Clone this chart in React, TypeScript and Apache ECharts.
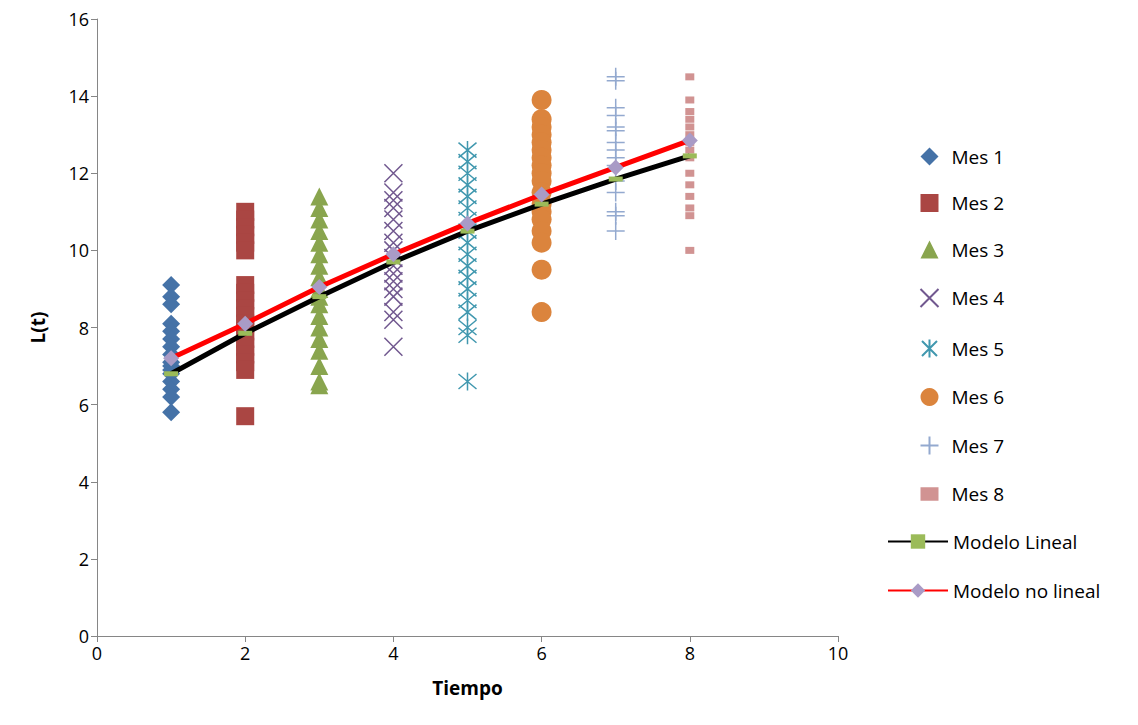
import { useEffect, useRef } from 'react';
import * as echarts from 'echarts';

const mes1 = [9.1, 8.8, 8.6, 8.1, 7.9, 7.7, 7.5, 7.3, 7.1, 7.0, 6.9, 6.8, 6.6, 6.4, 6.2, 5.8];
const mes2 = [11.0, 10.8, 10.6, 10.4, 10.2, 10.0, 9.1, 8.9, 8.7, 8.5, 8.3, 8.1, 7.9, 7.7, 7.5, 7.3, 7.1, 6.9, 5.7];
const mes3 = [11.4, 11.1, 10.8, 10.5, 10.2, 9.9, 9.6, 9.3, 9.0, 8.8, 8.6, 8.3, 8.0, 7.7, 7.4, 7.0, 6.6, 6.5];
const mes4 = [12.0, 11.5, 11.3, 11.1, 10.8, 10.5, 10.2, 10.0, 9.8, 9.6, 9.4, 9.2, 9.0, 8.8, 8.4, 8.2, 7.5];
const mes5 = [12.6, 12.3, 12.0, 11.7, 11.4, 11.1, 10.8, 10.5, 10.2, 9.9, 9.6, 9.3, 9.0, 8.7, 8.4, 8.0, 7.8, 6.6];
const mes6 = [13.9, 13.4, 13.2, 13.0, 12.8, 12.6, 12.4, 12.2, 12.0, 11.8, 11.5, 11.2, 11.0, 10.8, 10.5, 10.2, 9.5, 8.4];
const mes7 = [14.5, 14.4, 13.7, 13.5, 13.2, 13.1, 12.8, 12.6, 12.4, 12.2, 11.8, 11.5, 11.0, 10.9, 10.5];
const mes8 = [14.5, 13.9, 13.6, 13.4, 13.2, 13.0, 12.8, 12.6, 12.4, 12.0, 11.7, 11.4, 11.1, 10.9, 10.0];
const tiempos = [1, 2, 3, 4, 5, 6, 7, 8];
const modeloLineal = [6.8, 7.85, 8.8, 9.7, 10.5, 11.2, 11.85, 12.45];
const modeloNoLineal = [7.2, 8.1, 9.05, 9.9, 10.7, 11.45, 12.15, 12.85];

const meses = [mes1, mes2, mes3, mes4, mes5, mes6, mes7, mes8];
const nombres = ['Mes 1', 'Mes 2', 'Mes 3', 'Mes 4', 'Mes 5', 'Mes 6', 'Mes 7', 'Mes 8'];
const colores = ['#4572a7', '#aa4643', '#89a54e', '#71588f', '#4198af', '#db843d', '#93a9cf', '#d19392'];

const cross = 'path://M0,0L10,10M10,0L0,10';
const star = 'path://M0,0L10,10M10,0L0,10M5,-1L5,11';
const plus = 'path://M5,0L5,10M0,5L10,5';
const smallRect = 'path://M3,4L7,4L7,7L3,7Z';

const simbolos: { symbol: string; size: number | number[]; stroke?: boolean }[] = [
    { symbol: 'diamond', size: 18 },
    { symbol: 'rect', size: 18 },
    { symbol: 'triangle', size: 18 },
    { symbol: cross, size: 18, stroke: true },
    { symbol: star, size: 18, stroke: true },
    { symbol: 'circle', size: 20 },
    { symbol: plus, size: 18, stroke: true },
    { symbol: 'rect', size: [9, 7] },
];
const legendIcons = ['diamond', 'rect', 'triangle', cross, star, 'circle', plus, smallRect];

export default function App() {
    const chartRef = useRef<HTMLDivElement>(null);

    useEffect(() => {
        if (!chartRef.current) return;
        const chart = echarts.init(chartRef.current, null, { renderer: 'svg' });

        const scatterSeries = meses.map((vals, i) => {
            const s = simbolos[i];
            return {
                name: nombres[i],
                type: 'scatter' as const,
                symbol: s.symbol,
                symbolSize: s.size,
                itemStyle: s.stroke
                    ? { color: 'none', borderColor: colores[i], borderWidth: 1.5, opacity: 1 }
                    : { color: colores[i], opacity: 1 },
                data: vals.map(v => [i + 1, v]),
            };
        });

        const option: echarts.EChartsOption = {
            animation: false,
            textStyle: { fontFamily: 'Open Sans' },
            grid: { left: 89, right: 292, top: 11, bottom: 81 },
            legend: [
                {
                    orient: 'vertical',
                    left: 905,
                    top: 134,
                    itemGap: 27.5,
                    itemWidth: 18,
                    itemHeight: 18,
                    textStyle: { fontSize: 19, color: '#000', padding: [0, 0, 0, 8] },
                    data: nombres.map((n, i) => ({ name: n, icon: legendIcons[i] })),
                },
                {
                    orient: 'vertical',
                    left: 874,
                    top: 519,
                    itemGap: 30,
                    itemWidth: 60,
                    itemHeight: 18,
                    textStyle: { fontSize: 19, color: '#000' },
                    data: ['Modelo Lineal', 'Modelo no lineal'],
                },
            ],
            xAxis: {
                type: 'value',
                min: 0,
                max: 10,
                interval: 2,
                name: 'Tiempo',
                nameLocation: 'middle',
                nameGap: 42,
                nameTextStyle: { fontSize: 19, fontWeight: 'bold', color: '#000' },
                axisLine: { lineStyle: { color: '#868686' } },
                axisTick: { show: true, length: 6, lineStyle: { color: '#868686' } },
                axisLabel: { fontSize: 18, color: '#000' },
                splitLine: { show: false },
            },
            yAxis: {
                type: 'value',
                min: 0,
                max: 16,
                interval: 2,
                name: 'L(t)',
                nameLocation: 'middle',
                nameGap: 50,
                nameTextStyle: { fontSize: 19, fontWeight: 'bold', color: '#000' },
                axisLine: { show: true, lineStyle: { color: '#868686' } },
                axisTick: { show: true, length: 6, lineStyle: { color: '#868686' } },
                axisLabel: { fontSize: 18, color: '#000' },
                splitLine: { show: false },
            },
            series: [
                ...scatterSeries,
                {
                    name: 'Modelo Lineal',
                    type: 'line',
                    symbol: 'rect',
                    symbolSize: [14, 5],
                    lineStyle: { color: '#000', width: 5 },
                    itemStyle: { color: '#9bbb59' },
                    data: tiempos.map((t, i) => [t, modeloLineal[i]]),
                },
                {
                    name: 'Modelo no lineal',
                    type: 'line',
                    symbol: 'diamond',
                    symbolSize: 16,
                    lineStyle: { color: '#ff0000', width: 5 },
                    itemStyle: { color: '#a99bc6' },
                    data: tiempos.map((t, i) => [t, modeloNoLineal[i]]),
                },
            ],
        };

        chart.setOption(option);
        return () => chart.dispose();
    }, []);

    return <div ref={chartRef} style={{ width: 1122, height: 709 }} />;
}
